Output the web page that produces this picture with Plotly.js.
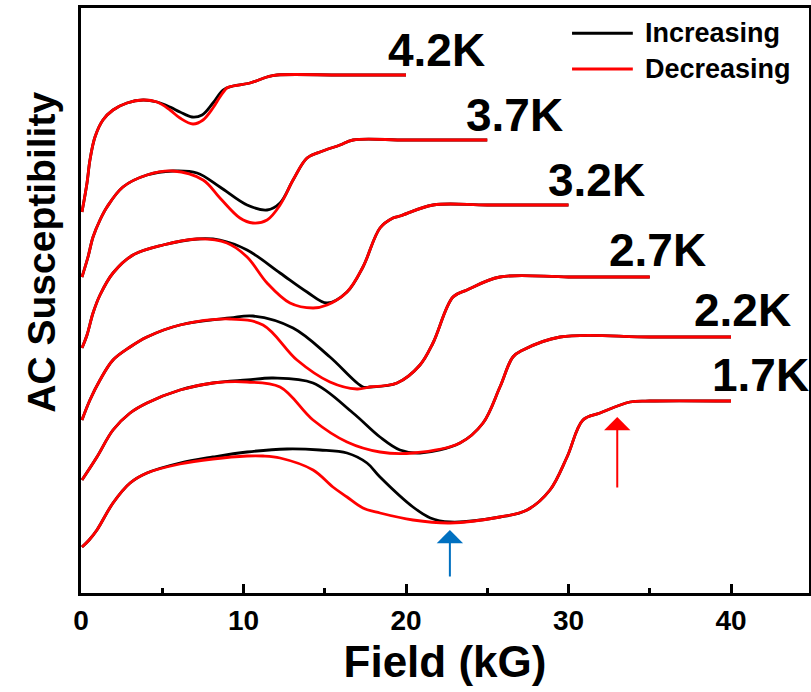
<!DOCTYPE html>
<html>
<head>
<meta charset="utf-8">
<script src="https://cdn.plot.ly/plotly-3.0.1.min.js"></script>
<style>html,body{margin:0;padding:0;background:#fff}#chart{width:811px;height:692px}</style>
</head>
<body>
<div id="chart"></div>
<script>
// Field (kG) and AC susceptibility (arbitrary units, curves offset per temperature)
var temps = ["4.2K", "3.7K", "3.2K", "2.7K", "2.2K", "1.7K"];

var inc42x = [0.06, 0.37, 0.55, 0.86, 1.35, 1.97, 2.83, 3.82, 4.68, 5.48, 6.09, 6.83, 7.45, 8.12, 8.74, 9.35, 10.4, 11.45, 12.06, 16, 20];
var inc42y = [381, 410, 433, 456, 473, 483, 490, 493, 491, 486, 481, 476, 478, 490, 503, 507, 510, 516, 518, 518, 518];
var dec42x = [0.06, 0.37, 0.55, 0.86, 1.35, 1.97, 2.83, 3.82, 4.68, 5.48, 6.09, 6.89, 7.51, 8.12, 8.55, 8.98, 9.35, 10.4, 11.45, 12.06, 16, 20];
var dec42y = [381, 410, 433, 456, 473, 483, 490, 493, 491, 483, 475, 469, 473, 485, 496, 505, 507, 510, 516, 518, 518, 518];

var inc37x = [0.06, 0.43, 0.74, 1.17, 1.6, 2.58, 4.06, 5.66, 7.14, 8.55, 10.22, 11.45, 12.25, 13.05, 13.91, 14.71, 15.94, 16.74, 20, 25];
var inc37y = [316, 336, 356, 373, 386, 406, 418, 422, 420, 406, 388, 383, 390, 413, 435, 441, 448, 453, 453, 453];
var dec37x = [0.06, 0.43, 0.74, 1.17, 1.6, 2.58, 4.06, 5.66, 7.51, 8.55, 9.78, 10.58, 11.45, 12.25, 13.05, 13.91, 14.71, 15.94, 16.74, 20, 25];
var dec37y = [316, 336, 356, 373, 386, 406, 418, 422, 413, 395, 375, 370, 373, 388, 413, 435, 441, 448, 453, 453, 453];

var inc32x = [0.06, 0.37, 0.74, 1.17, 1.97, 3.2, 5.05, 7.14, 8.55, 10.22, 12.25, 13.91, 15.14, 16.37, 17.35, 18.4, 19.2, 19.63, 21.66, 25, 30];
var inc32y = [245, 258, 280, 298, 320, 338, 348, 354, 353, 343, 320, 301, 290, 301, 326, 365, 375, 377, 388, 388, 388];
var dec32x = [0.06, 0.37, 0.74, 1.17, 1.97, 3.2, 5.05, 7.14, 8.98, 10.22, 11.45, 12.86, 14.28, 15.14, 16.37, 17.35, 18.4, 19.2, 19.63, 21.66, 25, 30];
var dec32y = [245, 258, 280, 298, 320, 338, 348, 354, 350, 336, 310, 290, 285, 288, 301, 326, 365, 375, 377, 388, 388, 388];

var inc27x = [0.06, 0.55, 1.17, 1.97, 3.02, 4.06, 6.09, 9.17, 10.58, 13.05, 15.32, 17.35, 17.78, 19.45, 20.86, 21.66, 22.89, 23.75, 25.78, 30, 35];
var inc27y = [173, 193, 213, 233, 246, 256, 268, 275, 277, 265, 236, 206, 206, 210, 228, 250, 296, 303, 316, 316, 316];
var dec27x = [0.06, 0.55, 1.17, 1.97, 3.02, 4.06, 6.09, 9.17, 11.2, 13.29, 15.32, 16.98, 17.78, 19.45, 20.86, 21.66, 22.89, 23.75, 25.78, 30, 35];
var dec27y = [173, 193, 213, 233, 246, 256, 268, 274, 268, 233, 211, 204, 206, 210, 228, 250, 296, 303, 316, 316, 316];

var inc22x = [0.06, 0.98, 1.97, 3.02, 4.06, 6.09, 8.12, 10.22, 11.82, 14.28, 16.74, 18.4, 19.63, 20.86, 23.32, 24.74, 25.78, 26.58, 27.2, 29.48, 35, 40];
var inc22y = [113, 136, 163, 180, 190, 203, 210, 213, 215, 210, 180, 156, 143, 140, 150, 170, 206, 236, 243, 256, 256, 256];
var dec22x = [0.06, 0.98, 1.97, 3.02, 4.06, 6.09, 8.12, 10.22, 12.25, 14.28, 16.37, 18.4, 20.43, 23.32, 24.74, 25.78, 26.58, 27.2, 29.48, 35, 40];
var dec22y = [113, 136, 163, 180, 190, 203, 210, 211, 206, 173, 151, 141, 140, 150, 170, 206, 236, 243, 256, 256, 256];

var inc17x = [0.06, 0.5, 0.98, 1.97, 3.02, 4.06, 6.09, 8.12, 10.22, 12.68, 14.7, 16.37, 17.6, 18.4, 20.43, 21.5, 22.71, 25.78, 27.45, 28.86, 29.91, 30.89, 31.94, 33.78, 35, 40];
var inc17y = [46, 53, 63, 90, 110, 120, 130, 136, 141, 144, 143, 140, 130, 116, 86, 75, 71, 76, 83, 103, 136, 173, 180, 191, 192, 192];
var dec17x = [0.06, 0.5, 0.98, 1.97, 3.02, 4.06, 6.09, 8.12, 10.22, 11.2, 12.25, 14.28, 15.5, 16.37, 17.35, 18.4, 20.43, 22.71, 25.78, 27.45, 28.86, 29.91, 30.89, 31.94, 33.78, 35, 40];
var dec17y = [46, 53, 63, 90, 110, 120, 129, 134, 137, 137, 135, 123, 106, 96, 85, 80, 73, 70, 76, 83, 103, 136, 173, 180, 191, 192, 192];

// temperature label anchors (field, susceptibility)
var labelX = [21.9, 26.7, 31.75, 35.45, 40.7, 41.8];
var labelY = [543, 478, 413, 343, 283, 218];

// arrows: [tipX, tipY, tailX, tailY]
var blueArrow = [22.7, 63, 22.7, 15];
var redArrow = [33.0, 176, 33.0, 104];

var incX = [inc42x, inc37x, inc32x, inc27x, inc22x, inc17x];
var incY = [inc42y, inc37y, inc32y, inc27y, inc22y, inc17y];
var decX = [dec42x, dec37x, dec32x, dec27x, dec22x, dec17x];
var decY = [dec42y, dec37y, dec32y, dec27y, dec22y, dec17y];

var FONT = "Liberation Sans, Arial, Helvetica, sans-serif";
var traces = [];
for (var i = 0; i < temps.length; i++) {
  traces.push({x: incX[i], y: incY[i], type: "scatter", mode: "lines", name: "Increasing " + temps[i],
    showlegend: false, hoverinfo: "skip",
    line: {color: "#000000", width: 2.8, shape: "spline", smoothing: 1}});
}
for (var j = 0; j < temps.length; j++) {
  traces.push({x: decX[j], y: decY[j], type: "scatter", mode: "lines", name: "Decreasing " + temps[j],
    showlegend: false, hoverinfo: "skip",
    line: {color: "#ff0000", width: 2.8, shape: "spline", smoothing: 1}});
}

var annotations = [];
for (var k = 0; k < temps.length; k++) {
  annotations.push({x: labelX[k], y: labelY[k], xref: "x", yref: "y", text: temps[k], showarrow: false,
    xanchor: "center", yanchor: "middle",
    font: {family: FONT, size: 46, color: "#000", weight: "bold"}});
}
annotations.push({x: blueArrow[0], y: blueArrow[1], ax: blueArrow[2], ay: blueArrow[3], xref: "x", yref: "y",
  axref: "x", ayref: "y", text: "", showarrow: true, arrowhead: 1, arrowsize: 2.2, arrowwidth: 2, arrowcolor: "#0070c0"});
annotations.push({x: redArrow[0], y: redArrow[1], ax: redArrow[2], ay: redArrow[3], xref: "x", yref: "y",
  axref: "x", ayref: "y", text: "", showarrow: true, arrowhead: 1, arrowsize: 2.2, arrowwidth: 2, arrowcolor: "#ff0000"});
// legend text
annotations.push({x: 0.772, y: 0.957, xref: "paper", yref: "paper", text: "Increasing", showarrow: false,
  xanchor: "left", yanchor: "middle", font: {family: FONT, size: 27, color: "#000", weight: "bold"}});
annotations.push({x: 0.772, y: 0.8957, xref: "paper", yref: "paper", text: "Decreasing", showarrow: false,
  xanchor: "left", yanchor: "middle", font: {family: FONT, size: 27, color: "#000", weight: "bold"}});
// y title
annotations.push({x: -0.054, y: 0.583, xref: "paper", yref: "paper", text: "AC Susceptibility", showarrow: false,
  textangle: -90, xanchor: "center", yanchor: "middle", font: {family: FONT, size: 39, color: "#000", weight: "bold"}});

var shapes = [
  {type: "line", xref: "paper", yref: "paper", x0: 0.6745, x1: 0.758, y0: 0.957, y1: 0.957, line: {color: "#000", width: 3}},
  {type: "line", xref: "paper", yref: "paper", x0: 0.6745, x1: 0.758, y0: 0.8957, y1: 0.8957, line: {color: "#ff0000", width: 3}}
];

var layout = {
  width: 811, height: 692,
  margin: {l: 81, r: 2, t: 8, b: 99},
  paper_bgcolor: "#fff", plot_bgcolor: "#fff",
  showlegend: false,
  font: {family: FONT, color: "#000"},
  xaxis: {
    range: [0, 44.8], tickvals: [0, 10, 20, 30, 40], ticktext: ["0", "10", "20", "30", "40"],
    ticks: "inside", ticklen: 9, tickwidth: 3, tickcolor: "#000",
    minor: {ticks: "inside", ticklen: 5, tickwidth: 3, tickcolor: "#000", tick0: 0, dtick: 5},
    showline: true, linewidth: 3, linecolor: "#000", mirror: true,
    showgrid: false, zeroline: false,
    tickfont: {family: FONT, size: 28, color: "#000", weight: "bold"},
    title: {text: "Field (kG)", font: {family: FONT, size: 44, color: "#000", weight: "bold"}, standoff: 12}
  },
  yaxis: {
    range: [0, 585], showticklabels: false, ticks: "",
    showline: true, linewidth: 3, linecolor: "#000", mirror: true,
    showgrid: false, zeroline: false
  },
  annotations: annotations,
  shapes: shapes
};

Plotly.newPlot("chart", traces, layout, {staticPlot: true, displayModeBar: false});
</script>
</body>
</html>
